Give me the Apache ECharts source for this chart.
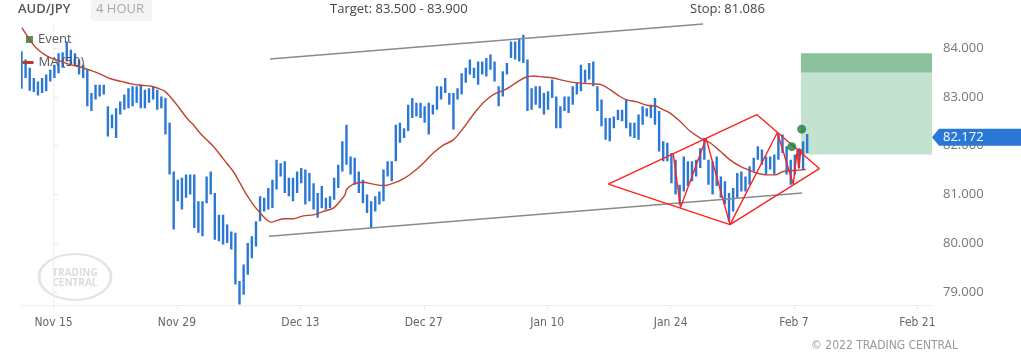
<!DOCTYPE html>
<html><head><meta charset="utf-8">
<script src="https://cdn.jsdelivr.net/npm/echarts@6/dist/echarts.min.js"></script>
<style>html,body{margin:0;padding:0;background:#fff}#c{width:1021px;height:360px}</style>
</head><body><div id="c"></div>
<script>
// ---- axis ticks (trading days since Nov 15) ----
const tickDays = [0, 10, 20, 30, 40, 50, 60, 70];
const tickLabels = ['Nov 15', 'Nov 29', 'Dec 13', 'Dec 27', 'Jan 10', 'Jan 24', 'Feb 7', 'Feb 21'];
const priceTicks = [79, 80, 81, 82, 83, 84];

// ---- price bars (8-hour groups), first bar at day -2.6 ----
const barStartDay = -2.6;
const barStepDay = 1 / 3;
const highs = [
  83.94, 83.77, 83.60, 83.39, 83.32, 83.39, 83.46, 83.56, 83.66, 83.90,
  83.92, 84.14, 83.97, 83.90, 83.77, 83.66, 83.56, 83.08, 83.25, 83.25,
  83.25, 82.81, 82.64, 82.77, 82.91, 83.05, 83.18, 83.22, 83.22, 83.25,
  83.15, 83.18, 83.22, 83.15, 83.01, 82.98, 82.47, 81.47, 81.30, 81.34,
  81.41, 81.41, 81.41, 80.86, 80.86, 81.37, 81.47, 81.03, 80.58, 80.58,
  80.38, 80.24, 80.21, 79.22, 79.56, 80.00, 80.14, 80.45, 80.96, 80.93,
  81.13, 81.30, 81.71, 81.64, 81.68, 81.34, 81.34, 81.47, 81.54, 81.51,
  81.44, 81.23, 81.03, 81.17, 80.93, 80.96, 81.34, 81.61, 82.09, 82.43,
  81.78, 81.75, 81.47, 81.30, 81.00, 80.86, 80.96, 81.06, 81.51, 81.68,
  81.68, 82.43, 82.47, 82.36, 82.84, 82.98, 82.88, 82.88, 82.81, 82.88,
  82.84, 83.22, 83.22, 83.39, 83.08, 83.08, 83.18, 83.49, 83.60, 83.77,
  83.60, 83.73, 83.73, 83.80, 83.87, 83.73, 83.22, 83.53, 83.70, 84.14,
  84.14, 84.21, 84.28, 83.77, 83.18, 83.22, 83.22, 83.08, 83.12, 83.36,
  83.01, 82.81, 83.01, 83.01, 83.22, 83.29, 83.66, 83.56, 83.70, 83.73,
  83.22, 82.95, 82.57, 82.57, 82.60, 82.74, 82.74, 82.95, 82.47, 82.47,
  82.64, 82.81, 82.77, 82.84, 82.98, 82.71, 82.09, 82.06, 81.85, 81.71,
  81.20, 81.78, 81.68, 81.68, 81.71, 81.95, 82.16, 81.71, 81.68, 81.78,
  81.37, 81.27, 81.03, 81.13, 81.44, 81.47, 81.37, 81.58, 81.75, 81.99,
  81.92, 81.78, 81.78, 81.82, 82.23, 82.23, 81.99, 81.71, 81.82, 81.95,
  82.09, 82.24
];
const lows = [
  83.17, 83.39, 83.13, 83.10, 83.03, 83.08, 83.12, 83.32, 83.39, 83.49,
  83.60, 83.73, 83.66, 83.63, 83.46, 83.39, 82.81, 82.71, 82.95, 83.01,
  83.05, 82.19, 82.36, 82.16, 82.64, 82.74, 82.77, 82.81, 82.88, 82.77,
  82.77, 82.88, 82.95, 82.74, 82.77, 82.23, 81.41, 80.28, 80.86, 80.69,
  80.93, 81.00, 80.31, 80.21, 80.14, 80.82, 81.00, 80.07, 80.04, 79.97,
  80.00, 79.87, 79.15, 78.74, 78.94, 79.35, 79.69, 79.93, 80.45, 80.65,
  80.69, 80.72, 81.10, 81.37, 81.03, 80.96, 80.86, 81.03, 81.23, 80.79,
  80.86, 80.69, 80.52, 80.72, 80.69, 80.72, 80.89, 81.13, 81.47, 81.61,
  81.41, 81.20, 81.03, 80.82, 80.62, 80.31, 80.65, 80.79, 80.86, 81.37,
  81.27, 81.68, 82.06, 82.16, 82.30, 82.57, 82.60, 82.57, 82.47, 82.23,
  82.64, 82.74, 82.95, 83.08, 82.84, 82.33, 82.95, 83.05, 83.29, 83.46,
  83.39, 83.25, 83.46, 83.42, 83.56, 83.32, 82.81, 83.01, 83.46, 83.80,
  83.77, 83.73, 83.70, 82.71, 82.74, 82.84, 82.77, 82.64, 82.74, 82.98,
  82.36, 82.36, 82.71, 82.67, 82.84, 83.05, 83.12, 83.29, 83.36, 83.22,
  82.71, 82.40, 82.12, 82.09, 82.36, 82.53, 82.50, 82.36, 82.19, 82.16,
  82.12, 82.43, 82.60, 82.57, 82.43, 81.88, 81.68, 81.68, 81.23, 81.00,
  80.79, 81.06, 81.17, 81.27, 81.37, 81.54, 81.71, 81.20, 81.00, 81.17,
  80.93, 80.79, 80.45, 80.65, 80.93, 81.06, 81.06, 81.20, 81.47, 81.71,
  81.61, 81.41, 81.51, 81.41, 81.71, 81.85, 81.41, 81.20, 81.41, 81.54,
  81.51, 81.85
];

// ---- MA (50): [trading day, value] ----
const maPoints = [
  [-2.56, 84.42], [-1.53, 84.04], [-0.72, 83.87], [-0.19, 83.80], [0.62, 83.73], [1.43, 83.66],
  [2.24, 83.61], [3.06, 83.54], [3.87, 83.46], [4.68, 83.37], [5.49, 83.32], [6.30, 83.27],
  [7.11, 83.24], [7.92, 83.22], [8.46, 83.18], [9.00, 83.12], [9.54, 82.98], [10.08, 82.81],
  [10.79, 82.57], [11.32, 82.43], [11.86, 82.26], [12.41, 82.12], [12.94, 81.99], [13.48, 81.82],
  [14.03, 81.64], [14.56, 81.47], [15.11, 81.23], [15.65, 80.99], [16.18, 80.79], [16.73, 80.62],
  [17.27, 80.48], [17.67, 80.43], [18.61, 80.50], [19.42, 80.50], [20.24, 80.56], [21.05, 80.58],
  [21.86, 80.65], [22.67, 80.72], [23.21, 80.86], [23.61, 80.99], [23.75, 81.10], [24.29, 81.21],
  [25.10, 81.25], [25.91, 81.21], [26.72, 81.18], [27.53, 81.23], [28.34, 81.32], [29.15, 81.46],
  [29.96, 81.64], [30.77, 81.85], [31.58, 82.01], [32.39, 82.12], [33.20, 82.36], [34.01, 82.64],
  [34.82, 82.88], [35.63, 83.05], [36.58, 83.15], [37.53, 83.30], [38.20, 83.40], [38.87, 83.43],
  [39.68, 83.41], [40.49, 83.39], [41.30, 83.34], [42.11, 83.30], [42.92, 83.28], [43.74, 83.27],
  [44.42, 83.25], [45.09, 83.15], [45.90, 83.01], [46.44, 82.94], [47.25, 82.90], [48.06, 82.83],
  [48.87, 82.81], [49.14, 82.77], [49.95, 82.67], [50.76, 82.50], [51.57, 82.30], [52.38, 82.16],
  [53.19, 82.06], [54.00, 81.89], [54.81, 81.71], [55.62, 81.58], [56.43, 81.49], [56.98, 81.44],
  [57.79, 81.40], [58.46, 81.40], [59.13, 81.47], [59.94, 81.49], [60.95, 81.51]
];

// ---- drawings ----
const upperTrend = [[17.54, 83.78], [52.63, 84.50]];
const lowerTrend = [[17.46, 80.14], [60.65, 81.03]];
const diamond = [[44.95, 81.21], [56.98, 82.64], [62.05, 81.53], [54.81, 80.38], [44.95, 81.21]];
const zigzag = [[50.22, 81.82], [50.80, 80.73], [52.87, 82.15], [54.81, 80.38], [58.65, 82.27],
  [59.94, 81.21], [60.26, 81.91], [60.39, 81.53], [60.55, 81.93], [60.70, 81.81]];
const events = [[59.82, 81.98], [60.62, 82.34]];
const targetLow = 83.5, targetHigh = 83.9, zoneLow = 81.82, zoneStartDay = 60.56;
const lastPrice = 82.172;
const xMin = -2.64, xMax = 71.18, yMin = 78.729, yMax = 84.509;

const BLUE = '#2a78d3';
const chart = echarts.init(document.getElementById('c'), null, {renderer: 'canvas'});
const bars = highs.map((h, i) => [barStartDay + i * barStepDay, lows[i], h]);
const narrow = "'Liberation Sans Narrow','DejaVu Sans Condensed','Open Sans',sans-serif";
const sans = "'Open Sans','Noto Sans',sans-serif";

chart.setOption({
  animation: false,
  backgroundColor: '#fff',
  grid: {left: 21, right: 89, top: 23.5, bottom: 55, containLabel: false},
  legend: [
    {data: [{name: 'Event', icon: 'rect'}], left: 26, top: 33, padding: 0, itemWidth: 7, itemHeight: 7,
     textStyle: {color: '#555', fontSize: 13, fontFamily: sans}, selectedMode: false},
    {data: [{name: 'MA (50)', icon: 'rect'}], left: 22.5, top: 56, padding: 0, itemWidth: 11, itemHeight: 3,
     textStyle: {color: '#555', fontSize: 13, fontFamily: sans}, selectedMode: false}
  ],
  xAxis: {
    type: 'value', min: xMin, max: xMax,
    splitLine: {show: false},
    axisLine: {show: true, lineStyle: {color: '#eeeeee'}},
    axisTick: {show: true, customValues: tickDays, length: 4, lineStyle: {color: '#e6e6e6'}},
    axisLabel: {customValues: tickDays, margin: 12, color: '#666', fontSize: 12, fontFamily: narrow,
      formatter: v => tickLabels[tickDays.indexOf(v)] || ''}
  },
  yAxis: {
    type: 'value', position: 'right', min: yMin, max: yMax, scale: true,
    splitLine: {show: false},
    axisLine: {show: true, lineStyle: {color: '#eeeeee'}},
    axisTick: {show: true, customValues: priceTicks, length: 4, lineStyle: {color: '#e6e6e6'}},
    axisLabel: {customValues: priceTicks, margin: 11, color: '#777', fontSize: 13, fontFamily: sans,
      formatter: v => v.toFixed(3)}
  },
  series: [
    {
      name: 'zone', type: 'line', data: [], silent: true, z: 1,
      markArea: {silent: true, data: [
        [{coord: [zoneStartDay, targetHigh], itemStyle: {color: '#8ac29e'}}, {coord: [xMax, targetLow]}],
        [{coord: [zoneStartDay, targetLow], itemStyle: {color: '#c4e2d0'}}, {coord: [xMax, zoneLow]}]
      ]}
    },
    {
      name: 'AUD/JPY', type: 'custom', data: bars, z: 3, clip: true,
      encode: {x: 0, y: [1, 2]},
      renderItem: (params, api) => {
        const x = api.value(0);
        const lo = api.coord([x, api.value(1)]);
        const hi = api.coord([x, api.value(2)]);
        const w = 2.4;
        return {type: 'rect', shape: {x: lo[0] - w / 2, y: hi[1], width: w, height: Math.max(1, lo[1] - hi[1])},
          style: {fill: BLUE}};
      }
    },
    {name: 'MA (50)', type: 'line', data: maPoints, smooth: 0.3, showSymbol: false, z: 4,
      color: '#b83a2c', lineStyle: {color: '#c0432f', width: 1.4}},
    {name: 'upper', type: 'line', data: upperTrend, showSymbol: false, z: 4,
      lineStyle: {color: '#8a8a8a', width: 1.5}},
    {name: 'lower', type: 'line', data: lowerTrend, showSymbol: false, z: 4,
      lineStyle: {color: '#8a8a8a', width: 1.5}},
    {name: 'diamond', type: 'line', data: diamond, showSymbol: false, z: 5,
      lineStyle: {color: '#ff2020', width: 1.4}},
    {name: 'zigzag', type: 'line', data: zigzag, showSymbol: false, z: 5,
      lineStyle: {color: '#ff2020', width: 1.4}},
    {name: 'Event', type: 'scatter', data: events, symbol: 'circle', symbolSize: 9, z: 6,
      itemStyle: {color: '#1c7d36'}}
  ]
});

const py = chart.convertToPixel({yAxisIndex: 0}, lastPrice);
chart.setOption({
  graphic: [
    {type: 'text', left: 18, top: 3, style: {text: 'AUD/JPY', fill: '#555', font: '600 13px ' + sans}},
    {type: 'rect', shape: {x: 91, y: 0, width: 61, height: 21, r: 3}, style: {fill: '#f4f4f4'}},
    {type: 'text', x: 96, y: 3, style: {text: '4 HOUR', fill: '#a8a8a8', font: '13px ' + sans}},
    {type: 'text', x: 330, y: 3, style: {text: 'Target: 83.500 - 83.900', fill: '#444', font: '13px ' + sans}},
    {type: 'text', x: 690, y: 3, style: {text: 'Stop: 81.086', fill: '#444', font: '13px ' + sans}},
    {type: 'text', x: 958, y: 340, style: {text: '\u00a9 2022 TRADING CENTRAL', fill: '#999', align: 'right', font: '12px ' + narrow}},
    {type: 'circle', shape: {cx: 75, cy: 277, r: 36}, scaleY: 0.64, originX: 75, originY: 277,
      style: {fill: 'none', stroke: '#e4e4e4', lineWidth: 3}, z: 0},
    {type: 'text', x: 75, y: 273, style: {text: 'TRADING', fill: '#dcdcdc', align: 'center', verticalAlign: 'middle', font: 'bold 10px ' + sans}, z: 0},
    {type: 'text', x: 75, y: 283, style: {text: 'CENTRAL', fill: '#dcdcdc', align: 'center', verticalAlign: 'middle', font: 'bold 10px ' + sans}, z: 0},
    {type: 'polygon', shape: {points: [[932, py], [939, py - 8.5], [1021, py - 8.5], [1021, py + 8.5], [939, py + 8.5]]},
      style: {fill: '#2a78d6'}, z: 10},
    {type: 'text', x: 943, y: py, style: {text: lastPrice.toFixed(3), fill: '#fff', verticalAlign: 'middle', font: '13px ' + sans}, z: 11}
  ]
});
</script></body></html>
